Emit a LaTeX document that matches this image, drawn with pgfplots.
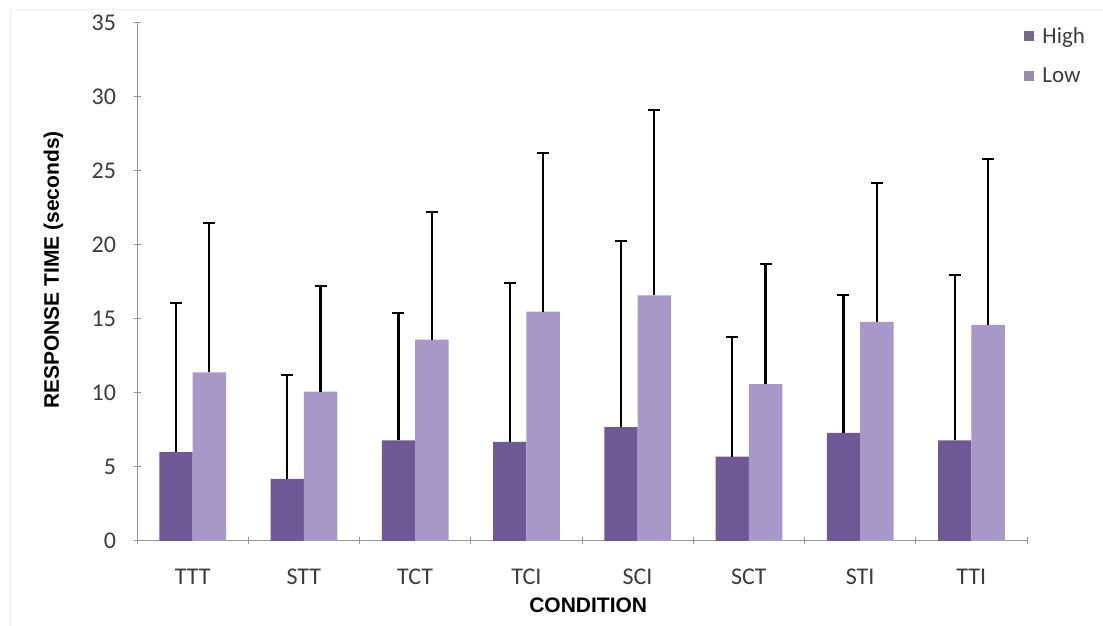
\documentclass[border=0pt]{standalone}
\usepackage{pgfplots}
\pgfplotsset{compat=1.18}
\usepackage{fontspec}
\setmainfont{Carlito}
\newfontfamily\arialfont{Liberation Sans}
\definecolor{highc}{RGB}{110,88,150}
\definecolor{lowc}{RGB}{168,152,200}
\definecolor{txt}{RGB}{60,60,60}
\definecolor{axc}{RGB}{150,150,150}

\pgfplotstableread{
x  high  herr  low   lerr
0  6.0   10.1  11.4  10.1
1  4.2   7.0   10.1  7.1
2  6.8   8.6   13.6  8.6
3  6.7   10.7  15.5  10.7
4  7.7   12.6  16.6  12.5
5  5.7   8.1   10.6  8.1
6  7.3   9.3   14.8  9.4
7  6.8   11.2  14.6  11.2
}\datatable

\begin{document}
\begin{tikzpicture}
\path[use as bounding box] (0,0) rectangle (1103pt,626pt);
\draw[gray!12, line width=1pt] (10pt,-5pt) -- (10pt,616pt) -- (1110pt,616pt);
\begin{axis}[
  at={(137pt,85pt)}, anchor=south west,
  width=890pt, height=518pt, scale only axis,
  ybar, bar width=0.3,
  xmin=-0.5, xmax=7.5, ymin=0, ymax=35,
  ytick={0,5,...,35},
  xtick={0,...,7},
  xticklabels={TTT,STT,TCT,TCI,SCI,SCT,STI,TTI},
  minor xtick={-0.5,0.5,...,7.5},
  major x tick style={draw=none},
  minor x tick style={axc, line width=1pt},
  y tick style={axc, line width=1pt},
  tick align=outside,
  major tick length=7pt, minor tick length=7pt,
  axis x line=bottom, axis y line=left,
  axis line style={-, axc, line width=1pt},
  /pgf/number format/assume math mode=true,
  tick label style={font=\fontsize{24}{28}\selectfont, text=txt},
  xticklabel style={yshift=-21pt},
  yticklabel style={xshift=-14pt},
  xlabel={CONDITION},
  ylabel={RESPONSE TIME (seconds)},
  xlabel style={font=\arialfont\bfseries\fontsize{21}{24}\selectfont, at={(axis description cs:0.507,-0.124)}, anchor=center},
  ylabel style={font=\arialfont\bfseries\fontsize{21}{24}\selectfont, at={(axis description cs:-0.094,0.523)}, anchor=center, rotate=0},
  legend style={at={(axis description cs:1.071,1.0)}, anchor=north east, draw=none, fill=none,
    font=\fontsize{23}{26}\selectfont, text=txt, row sep=19pt, cells={anchor=west}},
  error bars/y dir=plus, error bars/y explicit,
  error bars/error bar style={black, line width=2.2pt},
  error bars/error mark options={black, line width=2pt, mark size=6pt, rotate=90},
]
\addplot[fill=highc, draw=none, bar shift=-0.15,
  legend image code/.code={\fill[highc!55!gray] (0pt,-5pt) rectangle (10pt,5pt); \path (0pt,0pt) -- (16pt,0pt);}]
  table[x=x, y=high, y error=herr] {\datatable};
\addlegendentry{High}
\addplot[fill=lowc, draw=none, bar shift=0.15,
  legend image code/.code={\fill[lowc!55!gray] (0pt,-5pt) rectangle (10pt,5pt); \path (0pt,0pt) -- (16pt,0pt);}]
  table[x=x, y=low, y error=lerr] {\datatable};
\addlegendentry{Low}
\end{axis}
\end{tikzpicture}
\end{document}
